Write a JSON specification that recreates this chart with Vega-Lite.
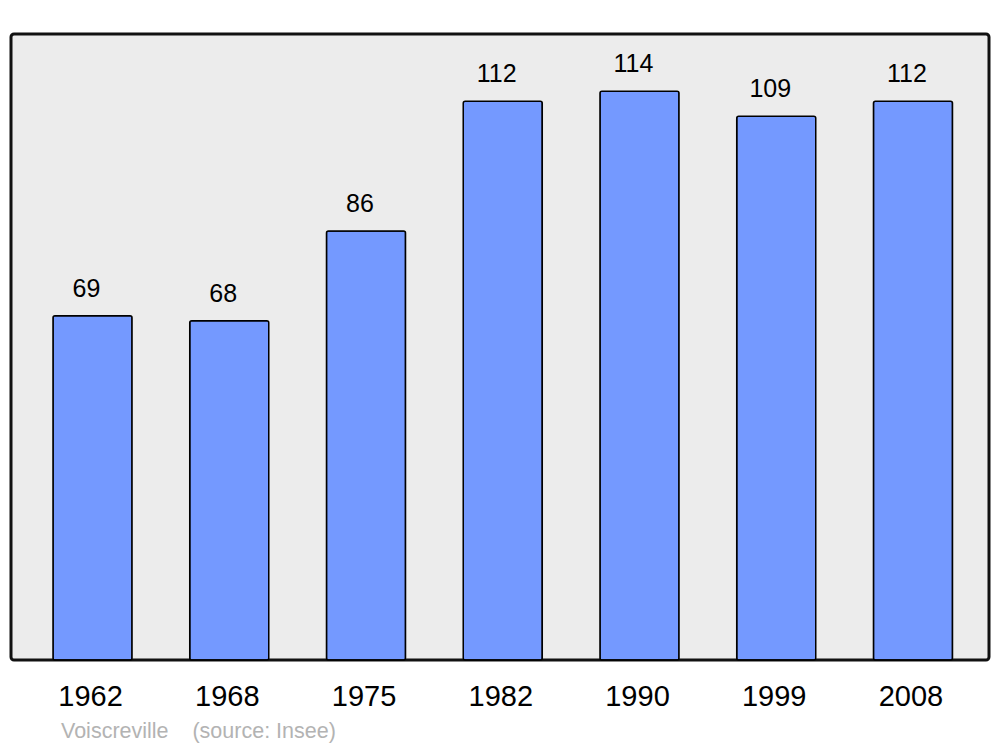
{
  "$schema": "https://vega.github.io/schema/vega-lite/v6.json",
  "autosize": {"type": "none"},
  "padding": {"left": 11, "top": 34, "right": 11, "bottom": 87},
  "width": 978,
  "height": 626,
  "background": "white",
  "data": {
    "values": [
      {"year": "1962", "population": 69},
      {"year": "1968", "population": 68},
      {"year": "1975", "population": 86},
      {"year": "1982", "population": 112},
      {"year": "1990", "population": 114},
      {"year": "1999", "population": 109},
      {"year": "2008", "population": 112}
    ]
  },
  "title": {
    "text": "Voiscreville\u00a0\u00a0\u00a0 (source: Insee)",
    "orient": "bottom",
    "anchor": "start",
    "frame": "group",
    "dx": 50,
    "offset": 10,
    "font": "Liberation Sans",
    "fontSize": 21.5,
    "fontWeight": "normal",
    "color": "#b3b3b3"
  },
  "encoding": {
    "x": {
      "field": "year",
      "type": "nominal",
      "sort": null,
      "scale": {"paddingInner": 0.422, "paddingOuter": 0.287, "align": 0.535},
      "axis": {
        "title": null,
        "domain": false,
        "ticks": false,
        "labelAngle": 0,
        "labelFont": "Liberation Sans",
        "labelFontSize": 29,
        "labelColor": "#000000",
        "labelBaseline": "alphabetic",
        "labelPadding": 45,
        "labelOffset": -2
      }
    },
    "y": {
      "field": "population",
      "type": "quantitative",
      "scale": {"domain": [0, 125.5], "nice": false, "zero": true},
      "axis": null
    }
  },
  "layer": [
    {
      "mark": {
        "type": "bar",
        "fill": "#7499ff",
        "stroke": "#000000",
        "strokeWidth": 1.5,
        "cornerRadius": 2
      }
    },
    {
      "mark": {
        "type": "text",
        "baseline": "alphabetic",
        "dy": -19,
        "dx": -6,
        "font": "Liberation Sans",
        "fontSize": 25,
        "color": "#000000"
      },
      "encoding": {"text": {"field": "population", "type": "quantitative"}}
    }
  ],
  "config": {
    "view": {
      "stroke": "#111111",
      "strokeWidth": 3,
      "fill": "#ececec",
      "cornerRadius": 3
    }
  }
}
